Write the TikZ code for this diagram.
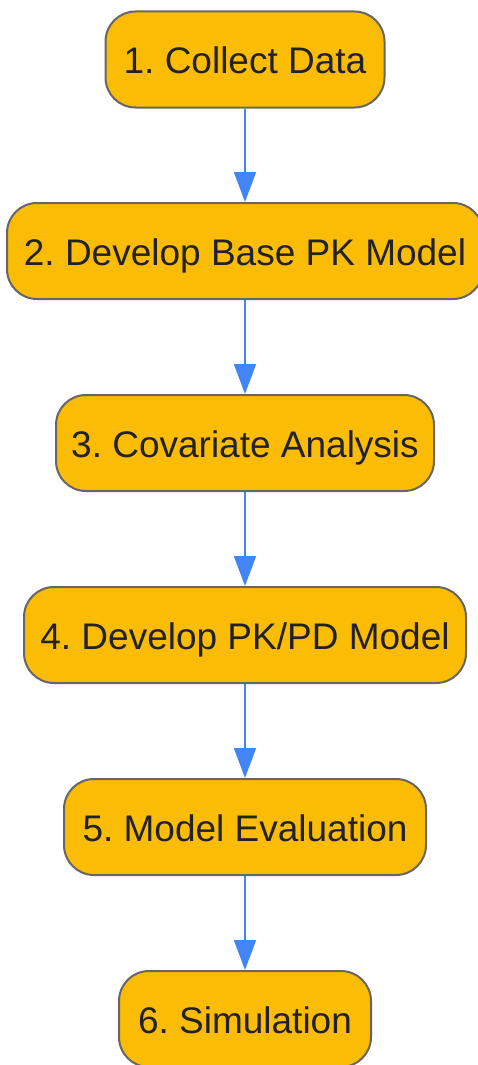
\documentclass[tikz,border=0pt]{standalone}
\usepackage{fontspec}
\setmainfont{Liberation Sans}
\usetikzlibrary{arrows.meta}
\definecolor{boxfill}{HTML}{FBBC05}
\definecolor{boxline}{HTML}{666666}
\definecolor{arrowblue}{HTML}{4285F4}
\definecolor{txt}{HTML}{222222}
\frenchspacing
\begin{document}
\begin{tikzpicture}[x=1pt,y=-1pt,
  stepbox/.style={draw=boxline,line width=2pt,fill=boxfill,rounded corners=30pt,
    minimum height=96pt,inner sep=0pt,text height=28.5pt,text depth=0pt,
    text=txt,font=\fontsize{37}{40}\selectfont},
  flow/.style={draw=arrowblue,line width=2pt,-{Triangle[length=30pt,width=22pt]}}]
\useasboundingbox (0,0) rectangle (478,1065);
\node[stepbox,minimum width=279pt] (n1) at (245,59.5) {1. Collect Data};
\node[stepbox,minimum width=476pt] (n2) at (245,251) {2. Develop Base PK Model};
\node[stepbox,minimum width=378pt] (n3) at (245,443) {3. Covariate Analysis};
\node[stepbox,minimum width=442pt] (n4) at (245,635) {4. Develop PK/PD Model};
\node[stepbox,minimum width=362pt] (n5) at (245,827) {5. Model Evaluation};
\node[stepbox,minimum width=252pt] (n6) at (245,1019) {6. Simulation};
\draw[flow] (n1) -- (n2);
\draw[flow] (n2) -- (n3);
\draw[flow] (n3) -- (n4);
\draw[flow] (n4) -- (n5);
\draw[flow] (n5) -- (n6);
\end{tikzpicture}
\end{document}
